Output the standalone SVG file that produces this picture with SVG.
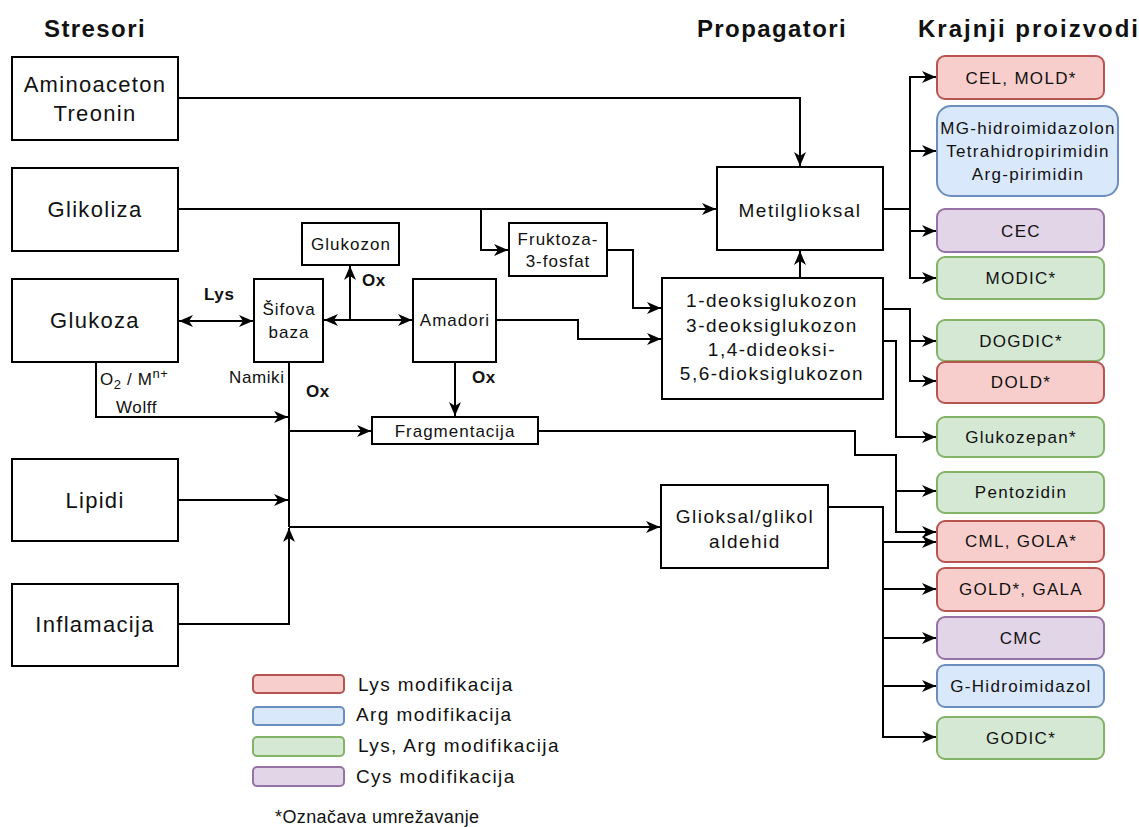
<svg xmlns="http://www.w3.org/2000/svg" width="1139" height="827" viewBox="0 0 1139 827">
<style>
text{font-family:"Liberation Sans",Arial,Helvetica,sans-serif;fill:#111;}
.t{font-weight:bold;font-size:24px;letter-spacing:1.4px;}
.big{font-size:22px;letter-spacing:1.3px;text-anchor:middle;}
.med{font-size:19px;letter-spacing:1.5px;text-anchor:middle;}
.sm{font-size:17px;letter-spacing:1px;text-anchor:middle;}
.pr{font-size:17px;letter-spacing:1.3px;text-anchor:middle;}
.lab{font-size:17px;letter-spacing:0.6px;}
.b{font-size:17px;font-weight:bold;letter-spacing:0.6px;}
.leg{font-size:19px;letter-spacing:1.4px;}
.box{fill:#fff;stroke:#000;stroke-width:2;}
.red{fill:#f8cecc;stroke:#b85450;stroke-width:2;}
.blue{fill:#dae8fc;stroke:#6c8ebf;stroke-width:2;}
.green{fill:#d5e8d4;stroke:#82b366;stroke-width:2;}
.purple{fill:#e1d5e7;stroke:#9673a6;stroke-width:2;}
.c{fill:none;stroke:#000;stroke-width:2;}
.a{marker-end:url(#arr);}
.aa{marker-start:url(#arr);marker-end:url(#arr);}
</style>
<defs>
<marker id="arr" viewBox="0 0 14 12" refX="14" refY="6" markerWidth="14" markerHeight="12" markerUnits="userSpaceOnUse" orient="auto-start-reverse">
<path d="M0,0 L14,6 L0,12 L4,6 Z" fill="#000"/>
</marker>
</defs>
<rect width="1139" height="827" fill="#fff"/>

<g id="titles">
<text class="t" x="95" y="37" text-anchor="middle">Stresori</text>
<text class="t" x="772" y="37" text-anchor="middle">Propagatori</text>
<text class="t" x="918" y="37" style="letter-spacing:2px">Krajnji proizvodi</text>
</g>

<g id="connectors">
<path class="c a" d="M178,98 H800 V166"/>
<path class="c a" d="M178,209 H716"/>
<path class="c a" d="M481,209 V250 H508"/>
<path class="c a" d="M607,250 H633 V308 H661"/>
<path class="c a" d="M496,320 H578 V339 H661"/>
<path class="c aa" d="M179,321 H253"/>
<path class="c aa" d="M324,320 H412"/>
<path class="c a" d="M350,320 V266"/>
<path class="c a" d="M455,362 V416"/>
<path class="c" d="M289,362 V527"/>
<path class="c a" d="M289,431 H371"/>
<path class="c a" d="M289,527 H660"/>
<path class="c a" d="M96,362 V417 H288"/>
<path class="c a" d="M178,500 H288"/>
<path class="c a" d="M178,624 H289 V528"/>
<path class="c a" d="M800,278 V251"/>
<path class="c a" d="M883,209 H910 V77 H936"/>
<path class="c a" d="M910,209 V278 H936"/>
<path class="c a" d="M910,151 H936"/>
<path class="c a" d="M910,231 H936"/>
<path class="c a" d="M883,309 H910 V341 H936"/>
<path class="c a" d="M910,341 V381 H936"/>
<path class="c a" d="M883,341 H896 V437 H936"/>
<path class="c a" d="M538,431 H855 V455 H896 V532 H936"/>
<path class="c a" d="M896,491 H936"/>
<path class="c a" d="M828,507 H883 V737 H936"/>
<path class="c a" d="M883,542 H936"/>
<path class="c a" d="M883,589 H936"/>
<path class="c a" d="M883,638 H936"/>
<path class="c a" d="M883,686 H936"/>
</g>

<g id="edge-labels">
<text class="b" x="204" y="300">Lys</text>
<text class="b" x="362" y="286">Ox</text>
<text class="b" x="472" y="383">Ox</text>
<text class="b" x="306" y="397">Ox</text>
<text class="lab" x="229" y="383">Namiki</text>
<text class="lab" x="100" y="385">O<tspan font-size="13" dy="4">2</tspan><tspan dy="-4"> / M</tspan><tspan font-size="13" dy="-7">n+</tspan></text>
<text class="lab" x="116" y="413">Wolff</text>
</g>

<g id="n-aminoaceton"><rect class="box" x="12" y="57" width="166" height="83"/><text class="big" x="95" y="92">Aminoaceton</text><text class="big" x="95" y="121">Treonin</text></g>
<g id="n-glikoliza"><rect class="box" x="12" y="168" width="166" height="83"/><text class="big" x="95" y="217">Glikoliza</text></g>
<g id="n-glukoza"><rect class="box" x="12" y="279" width="166" height="83"/><text class="big" x="95" y="328">Glukoza</text></g>
<g id="n-lipidi"><rect class="box" x="12" y="459" width="166" height="82"/><text class="big" x="95" y="508">Lipidi</text></g>
<g id="n-inflamacija"><rect class="box" x="12" y="584" width="166" height="82"/><text class="big" x="95" y="632">Inflamacija</text></g>

<g id="n-sifova"><rect class="box" x="254" y="279" width="69" height="83"/><text class="sm" x="289" y="315">Šifova</text><text class="sm" x="289" y="338">baza</text></g>
<g id="n-glukozon"><rect class="box" x="302" y="223" width="97" height="42"/><text class="sm" x="351" y="250">Glukozon</text></g>
<g id="n-amadori"><rect class="box" x="413" y="279" width="83" height="83"/><text class="sm" x="455" y="326">Amadori</text></g>
<g id="n-fruktoza"><rect class="box" x="509" y="223" width="98" height="53"/><text class="sm" x="558" y="245">Fruktoza-</text><text class="sm" x="558" y="267">3-fosfat</text></g>
<g id="n-fragmentacija"><rect class="box" x="372" y="417" width="166" height="27"/><text class="sm" x="455" y="437">Fragmentacija</text></g>
<g id="n-metilglioksal"><rect class="box" x="717" y="167" width="166" height="83"/><text class="med" x="800" y="217">Metilglioksal</text></g>
<g id="n-deoksi"><rect class="box" x="662" y="278" width="221" height="121"/><text class="med" x="772" y="307">1-deoksiglukozon</text><text class="med" x="772" y="332">3-deoksiglukozon</text><text class="med" x="772" y="356">1,4-dideoksi-</text><text class="med" x="772" y="380">5,6-dioksiglukozon</text></g>
<g id="n-glioksal"><rect class="box" x="661" y="485" width="167" height="83"/><text class="med" x="745" y="523">Glioksal/glikol</text><text class="med" x="745" y="548">aldehid</text></g>

<g id="n-cel"><rect class="red" x="937" y="56" width="167" height="43" rx="8"/><text class="pr" x="1021" y="84">CEL, MOLD*</text></g>
<g id="n-mg"><rect class="blue" x="937" y="106" width="181" height="90" rx="14"/><text class="pr" x="1028" y="134">MG-hidroimidazolon</text><text class="pr" x="1028" y="157">Tetrahidropirimidin</text><text class="pr" x="1028" y="180">Arg-pirimidin</text></g>
<g id="n-cec"><rect class="purple" x="937" y="209" width="167" height="43" rx="8"/><text class="pr" x="1021" y="237">CEC</text></g>
<g id="n-modic"><rect class="green" x="937" y="257" width="167" height="42" rx="8"/><text class="pr" x="1021" y="284">MODIC*</text></g>
<g id="n-dogdic"><rect class="green" x="937" y="320" width="167" height="41" rx="8"/><text class="pr" x="1021" y="347">DOGDIC*</text></g>
<g id="n-dold"><rect class="red" x="937" y="362" width="167" height="41" rx="8"/><text class="pr" x="1021" y="388">DOLD*</text></g>
<g id="n-glukozepan"><rect class="green" x="937" y="417" width="167" height="40" rx="8"/><text class="pr" x="1021" y="443">Glukozepan*</text></g>
<g id="n-pentozidin"><rect class="green" x="937" y="472" width="167" height="41" rx="8"/><text class="pr" x="1021" y="498">Pentozidin</text></g>
<g id="n-cml"><rect class="red" x="937" y="521" width="167" height="41" rx="8"/><text class="pr" x="1021" y="547">CML, GOLA*</text></g>
<g id="n-gold"><rect class="red" x="937" y="568" width="167" height="43" rx="8"/><text class="pr" x="1021" y="595">GOLD*, GALA</text></g>
<g id="n-cmc"><rect class="purple" x="937" y="617" width="167" height="42" rx="8"/><text class="pr" x="1021" y="644">CMC</text></g>
<g id="n-ghidro"><rect class="blue" x="937" y="665" width="167" height="42" rx="8"/><text class="pr" x="1021" y="692">G-Hidroimidazol</text></g>
<g id="n-godic"><rect class="green" x="937" y="717" width="167" height="42" rx="8"/><text class="pr" x="1021" y="744">GODIC*</text></g>

<g id="legend">
<rect class="red" x="253" y="675" width="91" height="18" rx="4"/><text class="leg" x="358" y="691">Lys modifikacija</text>
<rect class="blue" x="253" y="707" width="91" height="18" rx="4"/><text class="leg" x="356" y="721">Arg modifikacija</text>
<rect class="green" x="253" y="737" width="91" height="19" rx="4"/><text class="leg" x="358" y="752">Lys, Arg modifikacija</text>
<rect class="purple" x="253" y="767" width="91" height="19" rx="4"/><text class="leg" x="356" y="783">Cys modifikacija</text>
<text class="lab" x="275" y="823" style="font-size:18px;letter-spacing:0.4px">*Označava umrežavanje</text>
</g>
</svg>
